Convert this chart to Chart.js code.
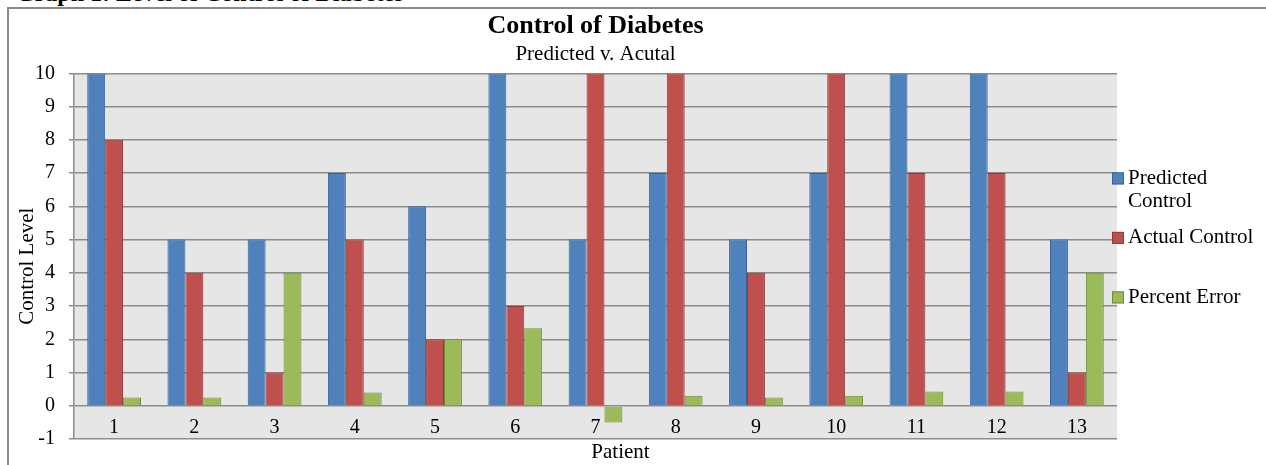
<!DOCTYPE html>
<html>
<head>
<meta charset="utf-8">
<script src="https://cdn.jsdelivr.net/npm/chart.js@4.4.1/dist/chart.umd.min.js"></script>
<style>
html,body{margin:0;padding:0;background:#fff;width:1266px;height:465px;overflow:hidden;}
#wrap{position:relative;width:1266px;height:465px;}
#frame{position:absolute;left:7px;top:7px;width:1300px;height:500px;border-left:2px solid #8a8a8a;border-top:2px solid #8a8a8a;box-sizing:border-box;}
#cap{position:absolute;left:16px;top:-19.5px;font:bold 24px "Liberation Serif";line-height:24px;white-space:nowrap;color:#000;}
canvas{position:absolute;left:0;top:0;}
</style>
</head>
<body>
<div id="wrap">
<div id="cap">Graph 1: Level of Control of Diabetes</div>
<div id="frame"></div>
<canvas id="c" width="1266" height="465"></canvas>
</div>
<script>
const patients = ['1','2','3','4','5','6','7','8','9','10','11','12','13'];
const predictedControl = [10,5,5,7,6,10,5,7,5,7,10,10,5];
const actualControl = [8,4,1,5,2,3,10,10,4,10,7,7,1];
const percentError = [0.25,0.25,4,0.4,2,2.33,-0.5,0.3,0.25,0.3,0.43,0.43,4];
const yMin = -1, yMax = 10, yStep = 1;
const xTitle = 'Patient';
const yTitle = 'Control Level';

const FONT = 'Liberation Serif';

const bgPlugin = {
  id: 'plotBg',
  beforeDraw(chart) {
    const {ctx, chartArea: a} = chart;
    ctx.save();
    ctx.fillStyle = '#e6e6e6';
    ctx.fillRect(a.left, a.top, a.right - a.left, a.bottom - a.top);
    ctx.restore();
  }
};

const axisTitlePlugin = {
  id: 'axisTitles',
  afterDraw(chart) {
    const {ctx, chartArea: a} = chart;
    ctx.save();
    ctx.font = '21px "' + FONT + '"';
    ctx.fillStyle = '#000';
    ctx.textAlign = 'center';
    ctx.textBaseline = 'middle';
    ctx.fillText(xTitle, (a.left + a.right) / 2 + 25, a.bottom + 13);
    ctx.translate(27, (a.top + a.bottom) / 2 + 10);
    ctx.rotate(-Math.PI / 2);
    ctx.fillText(yTitle, 0, 0);
    ctx.restore();
  }
};

const legendPlugin = {
  id: 'sideLegend',
  afterDraw(chart) {
    const {ctx, chartArea: a} = chart;
    const boxX = a.right - 5, box = 12, textX = boxX + 16;
    const maxW = chart.width - textX - 2;
    const y0 = a.top + 105, slot = 59.5, lh = 23.5;
    ctx.save();
    ctx.font = '21px "' + FONT + '"';
    ctx.textBaseline = 'middle';
    ctx.textAlign = 'left';
    chart.data.datasets.forEach((ds, i) => {
      const y = y0 + i * slot;
      ctx.fillStyle = ds.backgroundColor;
      ctx.fillRect(boxX, y - box / 2, box, box);
      ctx.strokeStyle = ds.borderColor;
      ctx.lineWidth = 1;
      ctx.strokeRect(boxX + 0.5, y - box / 2 + 0.5, box - 1, box - 1);
      const words = ds.label.split(' ');
      const lines = [];
      let cur = '';
      words.forEach(w => {
        const t = cur ? cur + ' ' + w : w;
        if (ctx.measureText(t).width > maxW && cur) { lines.push(cur); cur = w; }
        else cur = t;
      });
      if (cur) lines.push(cur);
      ctx.fillStyle = '#000';
      lines.forEach((ln, k) => ctx.fillText(ln, textX, y + k * lh));
    });
    ctx.restore();
  }
};

new Chart(document.getElementById('c'), {
  type: 'bar',
  data: {
    labels: patients,
    datasets: [
      {label: 'Predicted Control', data: predictedControl, backgroundColor: '#4F81BD', borderColor: '#3B6494', borderWidth: 1},
      {label: 'Actual Control', data: actualControl, backgroundColor: '#C0504D', borderColor: '#8E3A38', borderWidth: 1},
      {label: 'Percent Error', data: percentError, backgroundColor: '#9BBB59', borderColor: '#6F8A3C', borderWidth: 1}
    ]
  },
  options: {
    responsive: false,
    animation: false,
    devicePixelRatio: 1,
    layout: {padding: {left: 0, right: 149, top: 0, bottom: 24}},
    datasets: {bar: {categoryPercentage: 0.67, barPercentage: 1.0}},
    plugins: {
      legend: {display: false},
      tooltip: {enabled: false},
      title: {
        display: true, text: 'Control of Diabetes', color: '#000', fullSize: false,
        font: {family: FONT, size: 26, weight: 'bold', lineHeight: 1.2},
        padding: {top: 11, bottom: 0}
      },
      subtitle: {
        display: true, text: 'Predicted v. Acutal', color: '#000', fullSize: false,
        font: {family: FONT, size: 21, weight: 'normal', lineHeight: 1.2},
        padding: {top: 0, bottom: 6}
      }
    },
    scales: {
      x: {
        position: {y: 0},
        grid: {display: false, drawTicks: false},
        border: {display: false},
        ticks: {color: '#000', font: {family: FONT, size: 20}, padding: 10, maxRotation: 0},
        title: {display: false}
      },
      y: {
        min: yMin, max: yMax,
        afterFit(s) { s.width = 74; },
        grid: {color: '#8c8c8c', lineWidth: 1.5, drawTicks: true, tickLength: 5, tickColor: '#8c8c8c'},
        border: {display: true, color: '#8c8c8c', width: 1.5},
        ticks: {stepSize: yStep, color: '#000', font: {family: FONT, size: 20}, padding: 14},
        title: {display: false}
      }
    }
  },
  plugins: [bgPlugin, axisTitlePlugin, legendPlugin]
});
</script>
</body>
</html>
